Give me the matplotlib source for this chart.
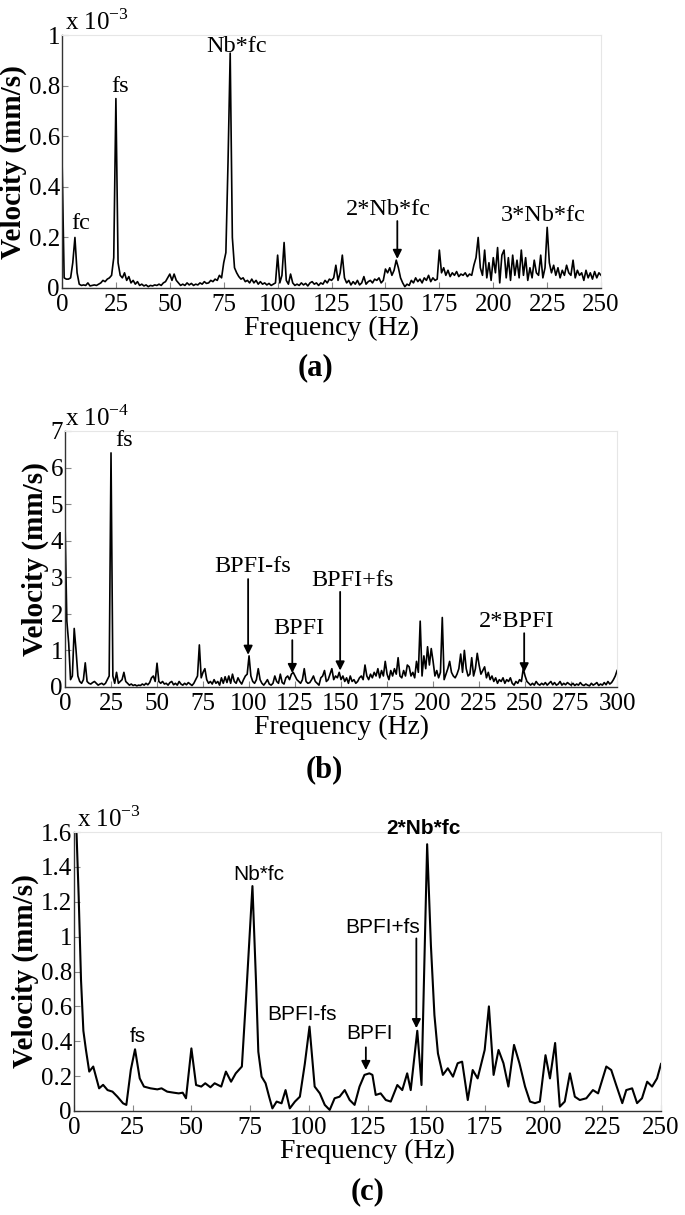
import numpy as np
import matplotlib
matplotlib.use("Agg")
from matplotlib import pyplot as plt

SERIF = "Liberation Serif"
SANS = "Liberation Sans"
plt.rcParams["mathtext.fontset"] = "custom"
plt.rcParams["mathtext.rm"] = SERIF

# ---- panel (a): velocity spectrum, x 1e-3 mm/s, 1 Hz grid 0..250
FREQ_A = np.arange(0, 251)
VEL_A = [
    0.52, 0.04, 0.035, 0.035, 0.04, 0.10, 0.20, 0.06, 0.015, 0.01,
    0.012, 0.01, 0.02, 0.008, 0.01, 0.012, 0.01, 0.015, 0.02, 0.03,
    0.025, 0.035, 0.04, 0.05, 0.12, 0.75, 0.10, 0.05, 0.04, 0.06,
    0.03, 0.045, 0.02, 0.03, 0.015, 0.025, 0.01, 0.015, 0.008, 0.012,
    0.005, 0.01, 0.008, 0.012, 0.01, 0.015, 0.01, 0.02, 0.025, 0.04,
    0.055, 0.03, 0.055, 0.03, 0.02, 0.01, 0.015, 0.01, 0.02, 0.012,
    0.018, 0.01, 0.015, 0.012, 0.02, 0.015, 0.025, 0.018, 0.02, 0.03,
    0.025, 0.035, 0.03, 0.05, 0.04, 0.10, 0.14, 0.50, 0.93, 0.20,
    0.08, 0.06, 0.045, 0.035, 0.04, 0.025, 0.03, 0.02, 0.035, 0.02,
    0.03, 0.015, 0.025, 0.015, 0.02, 0.012, 0.018, 0.01, 0.015, 0.02,
    0.13, 0.02, 0.05, 0.18, 0.03, 0.015, 0.055, 0.02, 0.01, 0.015,
    0.01, 0.02, 0.012, 0.018, 0.008, 0.02, 0.025, 0.015, 0.02, 0.01,
    0.02, 0.015, 0.03, 0.02, 0.035, 0.03, 0.04, 0.09, 0.03, 0.06,
    0.13, 0.04, 0.02, 0.03, 0.012, 0.025, 0.015, 0.03, 0.012, 0.02,
    0.045, 0.015, 0.025, 0.03, 0.02, 0.035, 0.03, 0.04, 0.02, 0.03,
    0.075, 0.06, 0.08, 0.05, 0.07, 0.11, 0.08, 0.04, 0.02, 0.005,
    0.015, 0.01, 0.03, 0.02, 0.04, 0.025, 0.035, 0.02, 0.04, 0.03,
    0.05, 0.025, 0.04, 0.03, 0.035, 0.15, 0.06, 0.08, 0.05, 0.07,
    0.045, 0.06, 0.05, 0.065, 0.045, 0.055, 0.05, 0.06, 0.045, 0.055,
    0.05, 0.09, 0.12, 0.20, 0.08, 0.05, 0.15, 0.04, 0.10, 0.03,
    0.12, 0.06, 0.16, 0.02, 0.13, 0.15, 0.04, 0.12, 0.03, 0.13,
    0.05, 0.11, 0.04, 0.15, 0.05, 0.12, 0.03, 0.08, 0.04, 0.11,
    0.06, 0.05, 0.13, 0.04, 0.08, 0.24, 0.10, 0.06, 0.09, 0.05,
    0.08, 0.04, 0.07, 0.05, 0.09, 0.06, 0.05, 0.11, 0.04, 0.07,
    0.05, 0.06, 0.03, 0.07, 0.04, 0.06, 0.035, 0.065, 0.04, 0.06,
    0.05,
]

# ---- panel (b): x 1e-4 mm/s, 1 Hz grid 0..300
FREQ_B = np.arange(0, 301)
VEL_B = [
    4.5, 1.8, 1.2, 0.2, 0.3, 1.6, 1.0, 0.3, 0.15, 0.1,
    0.2, 0.66, 0.15, 0.1, 0.08, 0.12, 0.15, 0.1, 0.05, 0.08,
    0.1, 0.06, 0.1, 0.2, 0.3, 6.4, 0.3, 0.1, 0.4, 0.1,
    0.15, 0.2, 0.4, 0.15, 0.1, 0.05, 0.08, 0.04, 0.06, 0.03,
    0.05, 0.04, 0.08, 0.05, 0.1, 0.06, 0.12, 0.25, 0.3, 0.15,
    0.65, 0.15, 0.1, 0.15, 0.08, 0.1, 0.05, 0.12, 0.15, 0.06,
    0.1, 0.05, 0.15, 0.08, 0.05, 0.1, 0.06, 0.12, 0.08, 0.04,
    0.1, 0.2, 0.3, 1.15, 0.25, 0.4, 0.5, 0.2, 0.1, 0.15,
    0.08, 0.2, 0.1, 0.15, 0.05, 0.25, 0.1, 0.28, 0.12, 0.3,
    0.1, 0.35, 0.15, 0.1, 0.25, 0.15, 0.08, 0.2, 0.3, 0.35,
    0.85, 0.3, 0.15, 0.1, 0.2, 0.5, 0.2, 0.1, 0.05, 0.12,
    0.2, 0.08, 0.05, 0.1, 0.3, 0.15, 0.1, 0.35, 0.12, 0.08,
    0.25, 0.3, 0.2, 0.35, 0.4, 0.3, 0.2, 0.15, 0.1, 0.2,
    0.5, 0.15, 0.1, 0.12, 0.2, 0.3, 0.15, 0.1, 0.05, 0.25,
    0.3, 0.45, 0.15, 0.2, 0.35, 0.5, 0.2, 0.3, 0.25, 0.4,
    0.2, 0.3, 0.15, 0.25, 0.1, 0.3, 0.15, 0.2, 0.1, 0.15,
    0.25, 0.3, 0.2, 0.6, 0.3, 0.2, 0.35, 0.25, 0.4, 0.3,
    0.5, 0.25, 0.45, 0.3, 0.7, 0.35, 0.2, 0.45, 0.3, 0.5,
    0.35, 0.8, 0.3, 0.25, 0.45, 0.3, 0.6, 0.55, 0.3, 0.4,
    0.25, 0.7, 0.4, 1.8, 0.3, 0.85, 0.5, 1.1, 0.6, 1.05,
    0.7, 0.3, 0.45, 0.25, 0.4, 1.9, 0.2, 0.35, 0.5, 0.7,
    0.4, 0.3, 0.25, 0.35, 0.5, 0.9, 0.4, 1.0, 0.5, 0.3,
    0.35, 0.8, 0.3, 0.5, 0.92, 0.6, 0.35, 0.45, 0.55, 0.25,
    0.4, 0.2, 0.3, 0.15, 0.25, 0.1, 0.2, 0.15, 0.25, 0.1,
    0.2, 0.15, 0.25, 0.1, 0.05, 0.15, 0.1, 0.2, 0.15, 0.5,
    0.3, 0.15, 0.1, 0.05, 0.1, 0.05, 0.15, 0.08, 0.05, 0.1,
    0.06, 0.12, 0.05, 0.1, 0.15, 0.06, 0.12, 0.05, 0.08, 0.15,
    0.05, 0.1, 0.06, 0.12, 0.08, 0.05, 0.1, 0.04, 0.08, 0.05,
    0.12, 0.06, 0.04, 0.08, 0.05, 0.03, 0.1, 0.05, 0.08, 0.12,
    0.04, 0.08, 0.05, 0.12, 0.06, 0.15, 0.08, 0.12, 0.2, 0.3,
    0.45,
]

# ---- panel (c): x 1e-3 mm/s, coarse spectrum read vertex by vertex
FREQ_C = [
    0, 1.1, 2.0, 3.0, 4.0, 5.1, 6.5, 8.2, 10.7, 12.4, 14.3, 16.4, 18.5,
    20.9, 22.3, 24.2, 26.0, 28.0, 29.8, 32.6, 35.5, 37.3, 39.7, 42.5,
    44.6, 46.3, 47.7, 50.0, 52.0, 54.2, 55.9, 58.1, 59.9, 62.7, 64.7,
    66.9, 68.9, 71.5, 73.5, 76.0, 77.5, 78.5, 79.9, 81.6, 83.1, 84.5,
    86.3, 88.4, 90.1, 91.9, 94.1, 96.2, 98.3, 100.3, 102.5, 104.7,
    106.8, 108.9, 111.0, 113.1, 115.3, 117.4, 119.5, 121.6, 123.7,
    125.8, 127.1, 128.5, 130.6, 132.8, 134.9, 137.7, 139.8, 141.9,
    143.4, 146.2, 148.0, 150.4, 152.0, 153.5, 155.0, 157.1, 159.2,
    161.4, 163.4, 165.3, 167.7, 169.8, 171.9, 174.9, 176.7, 178.7,
    180.8, 182.9, 185.0, 187.4, 189.7, 192.1, 194.2, 196.3, 198.4,
    200.8, 202.7, 204.9, 206.9, 209.0, 211.2, 213.3, 215.4, 218.2,
    221.0, 223.2, 226.7, 228.8, 230.9, 233.5, 235.2, 237.7, 239.8,
    241.9, 244.1, 246.2, 248.3, 250.0,
]
VEL_C = [
    1.65, 1.59, 1.23, 0.75, 0.46, 0.35, 0.226, 0.255, 0.13, 0.15, 0.12,
    0.111, 0.082, 0.044, 0.035, 0.236, 0.354, 0.187, 0.14, 0.13, 0.124,
    0.13, 0.111, 0.105, 0.101, 0.105, 0.073, 0.359, 0.149, 0.14, 0.159,
    0.136, 0.159, 0.14, 0.226, 0.168, 0.216, 0.255, 0.70, 1.29, 0.75,
    0.34, 0.197, 0.159, 0.082, 0.015, 0.054, 0.044, 0.12, 0.015, 0.054,
    0.082, 0.27, 0.484, 0.14, 0.101, 0.035, 0.006, 0.073, 0.082, 0.12,
    0.063, 0.035, 0.14, 0.207, 0.216, 0.207, 0.092, 0.101, 0.063, 0.054,
    0.149, 0.12, 0.216, 0.12, 0.46, 0.149, 1.53, 0.95, 0.55, 0.33,
    0.207, 0.245, 0.197, 0.274, 0.283, 0.063, 0.235, 0.187, 0.35, 0.60,
    0.207, 0.35, 0.274, 0.14, 0.379, 0.274, 0.14, 0.054, 0.045, 0.054,
    0.32, 0.187, 0.39, 0.025, 0.054, 0.216, 0.082, 0.063, 0.073, 0.12,
    0.101, 0.255, 0.235, 0.149, 0.045, 0.12, 0.13, 0.045, 0.073, 0.168,
    0.14, 0.187, 0.27,
]

# annotations: (text, x, y, arrow tail y or None, arrow x, arrow tip y)
NOTES_A = [
    ("fc", 8.5, 0.215, None, None, None),
    ("fs", 27, 0.755, None, None, None),
    ("Nb*fc", 81, 0.915, None, None, None),
    ("2*Nb*fc", 151.5, 0.27, 0.265, 155.5, 0.115),
    ("3*Nb*fc", 223, 0.245, None, None, None),
]
NOTES_B = [
    ("fs", 32, 6.45, None, None, None),
    ("BPFI-fs", 102, 3.0, 2.95, 99.5, 0.88),
    ("BPFI", 127, 1.3, 1.28, 123.5, 0.38),
    ("BPFI+fs", 156, 2.63, 2.6, 149.5, 0.45),
    ("2*BPFI", 245.5, 1.5, 1.47, 249.5, 0.4),
]
NOTES_C = [
    ("fs", 27, 0.37, None, None, None),
    ("Nb*fc", 78.5, 1.3, None, None, None),
    ("BPFI-fs", 97, 0.5, None, None, None),
    ("BPFI", 126, 0.39, 0.365, 124.3, 0.235),
    ("BPFI+fs", 131.5, 1.0, 0.99, 145.8, 0.475),
]


def style_axes(ax, xmax, xstep, yticks, ylabels):
    ax.set_xlim(0, xmax)
    ax.set_ylim(yticks[0], yticks[-1])
    ax.set_xticks(np.arange(0, xmax + 1, xstep))
    ax.set_yticks(yticks)
    ax.set_yticklabels(ylabels)
    ax.tick_params(direction="in", length=4, width=0.8, color="#888888",
                   top=False, right=False, labelsize=18)
    ax.tick_params(axis="x", pad=4.5)
    ax.tick_params(axis="y", pad=1.5)
    for lab in ax.get_xticklabels() + ax.get_yticklabels():
        lab.set_fontfamily(SERIF)
    for side in ["top", "right"]:
        ax.spines[side].set_color("#e6e6e6")
    for side in ["left", "bottom"]:
        ax.spines[side].set_color("#333333")
        ax.spines[side].set_linewidth(1.0)
    ax.set_xlabel("Frequency (Hz)", fontfamily=SERIF, fontsize=20, labelpad=0)
    ax.set_ylabel("Velocity (mm/s)", fontfamily=SERIF, fontsize=21,
                  fontweight="bold", labelpad=1)


def add_notes(ax, notes, family, size, weight="normal"):
    for text, x, y, tail, ax_x, tip in notes:
        ax.text(x, y, text, ha="center", va="bottom", fontfamily=family,
                fontsize=size, fontweight=weight)
        if tail is not None:
            ax.annotate("", xy=(ax_x, tip), xytext=(ax_x, tail),
                        arrowprops=dict(arrowstyle="-|>", color="k", lw=1.3,
                                        mutation_scale=13, shrinkA=0, shrinkB=0))


fig = plt.figure(figsize=(6.85, 12.15), dpi=100)

# (a)
ax1 = fig.add_axes([0.0905, 0.763, 0.787, 0.2078])
ax1.plot(FREQ_A, VEL_A, color="k", lw=1.2)
style_axes(ax1, 250, 25, [0, 0.2, 0.4, 0.6, 0.8, 1.0],
           ["0", "0.2", "0.4", "0.6", "0.8", "1"])
add_notes(ax1, NOTES_A, SERIF, 17.5)
ax1.text(0.005, 1.0, r"x 10$^{\mathrm{-3}}$", transform=ax1.transAxes,
         ha="left", va="bottom", fontfamily=SERIF, fontsize=18)

# (b)
ax2 = fig.add_axes([0.0949, 0.4346, 0.806, 0.2107])
ax2.plot(FREQ_B, VEL_B, color="k", lw=1.2)
style_axes(ax2, 300, 25, list(range(0, 8)), [str(v) for v in range(0, 8)])
add_notes(ax2, NOTES_B, SERIF, 17.5)
ax2.text(0.0, 1.0, r"x 10$^{\mathrm{-4}}$", transform=ax2.transAxes,
         ha="left", va="bottom", fontfamily=SERIF, fontsize=18)

# (c)
ax3 = fig.add_axes([0.108, 0.0856, 0.857, 0.2296])
ax3.plot(FREQ_C, VEL_C, color="k", lw=1.5)
style_axes(ax3, 250, 25, [0, 0.2, 0.4, 0.6, 0.8, 1.0, 1.2, 1.4, 1.6],
           ["0", "0.2", "0.4", "0.6", "0.8", "1", "1.2", "1.4", "1.6"])
add_notes(ax3, NOTES_C, SANS, 15)
ax3.text(149, 1.565, "2*Nb*fc", ha="center", va="bottom", fontfamily=SANS,
         fontsize=15, fontweight="bold")
ax3.text(0.005, 1.0, r"x 10$^{\mathrm{-3}}$", transform=ax3.transAxes,
         ha="left", va="bottom", fontfamily=SERIF, fontsize=18)

# panel letters
fig.text(0.46, 1 - 368 / 1215, "(a)", ha="center", va="center",
         fontfamily=SERIF, fontsize=22, fontweight="bold")
fig.text(0.474, 1 - 770 / 1215, "(b)", ha="center", va="center",
         fontfamily=SERIF, fontsize=22, fontweight="bold")
fig.text(0.537, 1 - 1192 / 1215, "(c)", ha="center", va="center",
         fontfamily=SERIF, fontsize=22, fontweight="bold")

fig.savefig("out.png", dpi=100)
